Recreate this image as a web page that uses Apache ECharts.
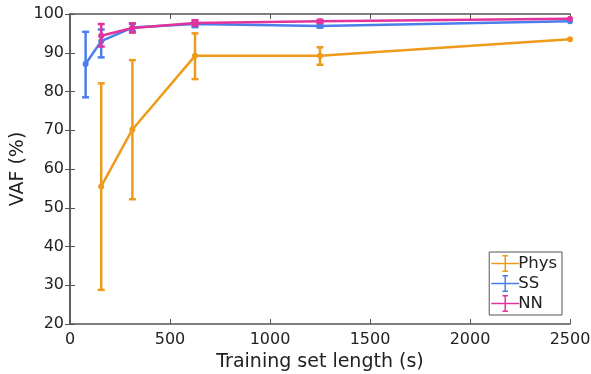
<!DOCTYPE html>
<html>
<head>
<meta charset="utf-8">
<script src="https://cdn.jsdelivr.net/npm/echarts@6/dist/echarts.min.js"></script>
<style>
  html, body { margin: 0; padding: 0; background: #fff; }
  #chart { width: 591px; height: 374px; }
</style>
</head>
<body>
<div id="chart"></div>
<script>
// training set lengths (s)
var xVals = [78, 156, 312, 625, 1250, 2500];

var physMean = [null, 55.5, 70.2, 89.2, 89.2, 93.5];
var physLow  = [null, 28.8, 52.2, 83.2, 86.9, null];
var physHigh = [null, 82.1, 88.1, 95.0, 91.4, null];

var ssMean = [87.1, 93.0, 96.5, 97.4, 96.9, 98.1];
var ssLow  = [78.5, 88.8, 95.6, 96.6, 96.5, null];
var ssHigh = [95.4, 96.0, 97.5, 98.1, 97.3, null];

var nnMean = [null, 94.4, 96.4, 97.7, 98.1, 98.8];
var nnLow  = [null, 91.6, 95.2, 97.0, 97.7, null];
var nnHigh = [null, 97.4, 97.6, 98.4, 98.5, null];

var xTicks = [0, 500, 1000, 1500, 2000, 2500];
var yTicks = [20, 30, 40, 50, 60, 70, 80, 90, 100];

var colors = { Phys: '#EE9B1C', SS: '#4A7EEB', NN: '#E2339C' };
var font = 'DejaVu Sans';
var axisColor = '#555';

function pairs(mean) {
  var out = [];
  for (var i = 0; i < xVals.length; i++) {
    if (mean[i] != null) out.push([xVals[i], mean[i]]);
  }
  return out;
}
function bars(low, high) {
  var out = [];
  for (var i = 0; i < xVals.length; i++) {
    if (low[i] != null && high[i] != null) out.push([xVals[i], low[i], high[i]]);
  }
  return out;
}

function errRender(color) {
  return function (params, api) {
    var lo = api.coord([api.value(0), api.value(1)]);
    var hi = api.coord([api.value(0), api.value(2)]);
    var w = 3.5;
    var st = { stroke: color, lineWidth: 2.5 };
    return {
      type: 'group',
      children: [
        { type: 'line', shape: { x1: lo[0], y1: lo[1], x2: hi[0], y2: hi[1] }, style: st },
        { type: 'line', shape: { x1: lo[0] - w, y1: lo[1], x2: lo[0] + w, y2: lo[1] }, style: st },
        { type: 'line', shape: { x1: hi[0] - w, y1: hi[1], x2: hi[0] + w, y2: hi[1] }, style: st }
      ]
    };
  };
}

// legend icon: horizontal line with error bar
var errIcon = 'path://M0,9.2L30,9.2L30,10.8L0,10.8Z M14.2,1L15.8,1L15.8,19L14.2,19Z M12,1L18,1L18,2.6L12,2.6Z M12,17.4L18,17.4L18,19L12,19Z';

var names = ['Phys', 'SS', 'NN'];
var means = [physMean, ssMean, nnMean];
var lows = [physLow, ssLow, nnLow];
var highs = [physHigh, ssHigh, nnHigh];

var series = [];
names.forEach(function (n, k) {
  series.push({
    type: 'custom',
    name: n + '_err',
    renderItem: errRender(colors[n]),
    data: bars(lows[k], highs[k]),
    z: 2 + k * 2,
    silent: true
  });
  series.push({
    type: 'line',
    name: n,
    data: pairs(means[k]),
    symbol: 'circle',
    symbolSize: 6,
    lineStyle: { color: colors[n], width: 2.5 },
    itemStyle: { color: colors[n] },
    z: 3 + k * 2,
    animation: false
  });
});

var chart = echarts.init(document.getElementById('chart'));
chart.setOption({
  animation: false,
  backgroundColor: '#fff',
  textStyle: { fontFamily: font },
  grid: { left: 70, right: 21, top: 14, bottom: 50, containLabel: false, outerBoundsMode: 'none' },
  legend: {
    data: names.map(function (n) {
      return { name: n, icon: errIcon, itemStyle: { color: colors[n] } };
    }),
    orient: 'vertical',
    right: 29,
    bottom: 59,
    itemWidth: 28,
    itemHeight: 18,
    itemGap: 3,
    padding: [3, 5, 3, 2],
    borderColor: '#555',
    borderWidth: 1,
    backgroundColor: '#fff',
    textStyle: { fontFamily: font, fontSize: 16.5, color: '#222', padding: [0, 0, 0, -6] }
  },
  xAxis: [{
    type: 'value',
    min: 0, max: 2500, interval: 500,
    name: 'Training set length (s)',
    nameLocation: 'middle',
    nameGap: 28,
    nameTextStyle: { fontFamily: font, fontSize: 19, color: '#222' },
    axisLine: { lineStyle: { color: axisColor, width: 1.5 } },
    axisTick: { inside: true, length: 5, lineStyle: { color: axisColor } },
    axisLabel: { fontFamily: font, fontSize: 16, color: '#222', margin: 8,
      formatter: function (v) { return xTicks.indexOf(v) >= 0 ? String(v) : ''; } },
    splitLine: { show: false }
  }, {
    type: 'value', position: 'top',
    min: 0, max: 2500, interval: 500,
    axisLine: { lineStyle: { color: axisColor, width: 1.5 } },
    axisTick: { inside: true, length: 5, lineStyle: { color: axisColor } },
    axisLabel: { show: false },
    splitLine: { show: false }
  }],
  yAxis: [{
    type: 'value',
    min: 20, max: 100, interval: 10,
    name: 'VAF (%)',
    nameLocation: 'middle',
    nameGap: 42,
    nameMoveOverlap: false,
    nameTextStyle: { fontFamily: font, fontSize: 19, color: '#222' },
    axisLine: { show: true, lineStyle: { color: axisColor, width: 1.5 } },
    axisTick: { show: true, inside: true, length: 5, lineStyle: { color: axisColor } },
    axisLabel: { fontFamily: font, fontSize: 16, color: '#222', margin: 6,
      formatter: function (v) { return yTicks.indexOf(v) >= 0 ? String(v) : ''; } },
    splitLine: { show: false }
  }, {
    type: 'value', position: 'right',
    min: 20, max: 100, interval: 10,
    axisLine: { show: true, lineStyle: { color: axisColor, width: 1.5 } },
    axisTick: { show: true, inside: true, length: 5, lineStyle: { color: axisColor } },
    axisLabel: { show: false },
    splitLine: { show: false }
  }],
  series: series
});
</script>
</body>
</html>
